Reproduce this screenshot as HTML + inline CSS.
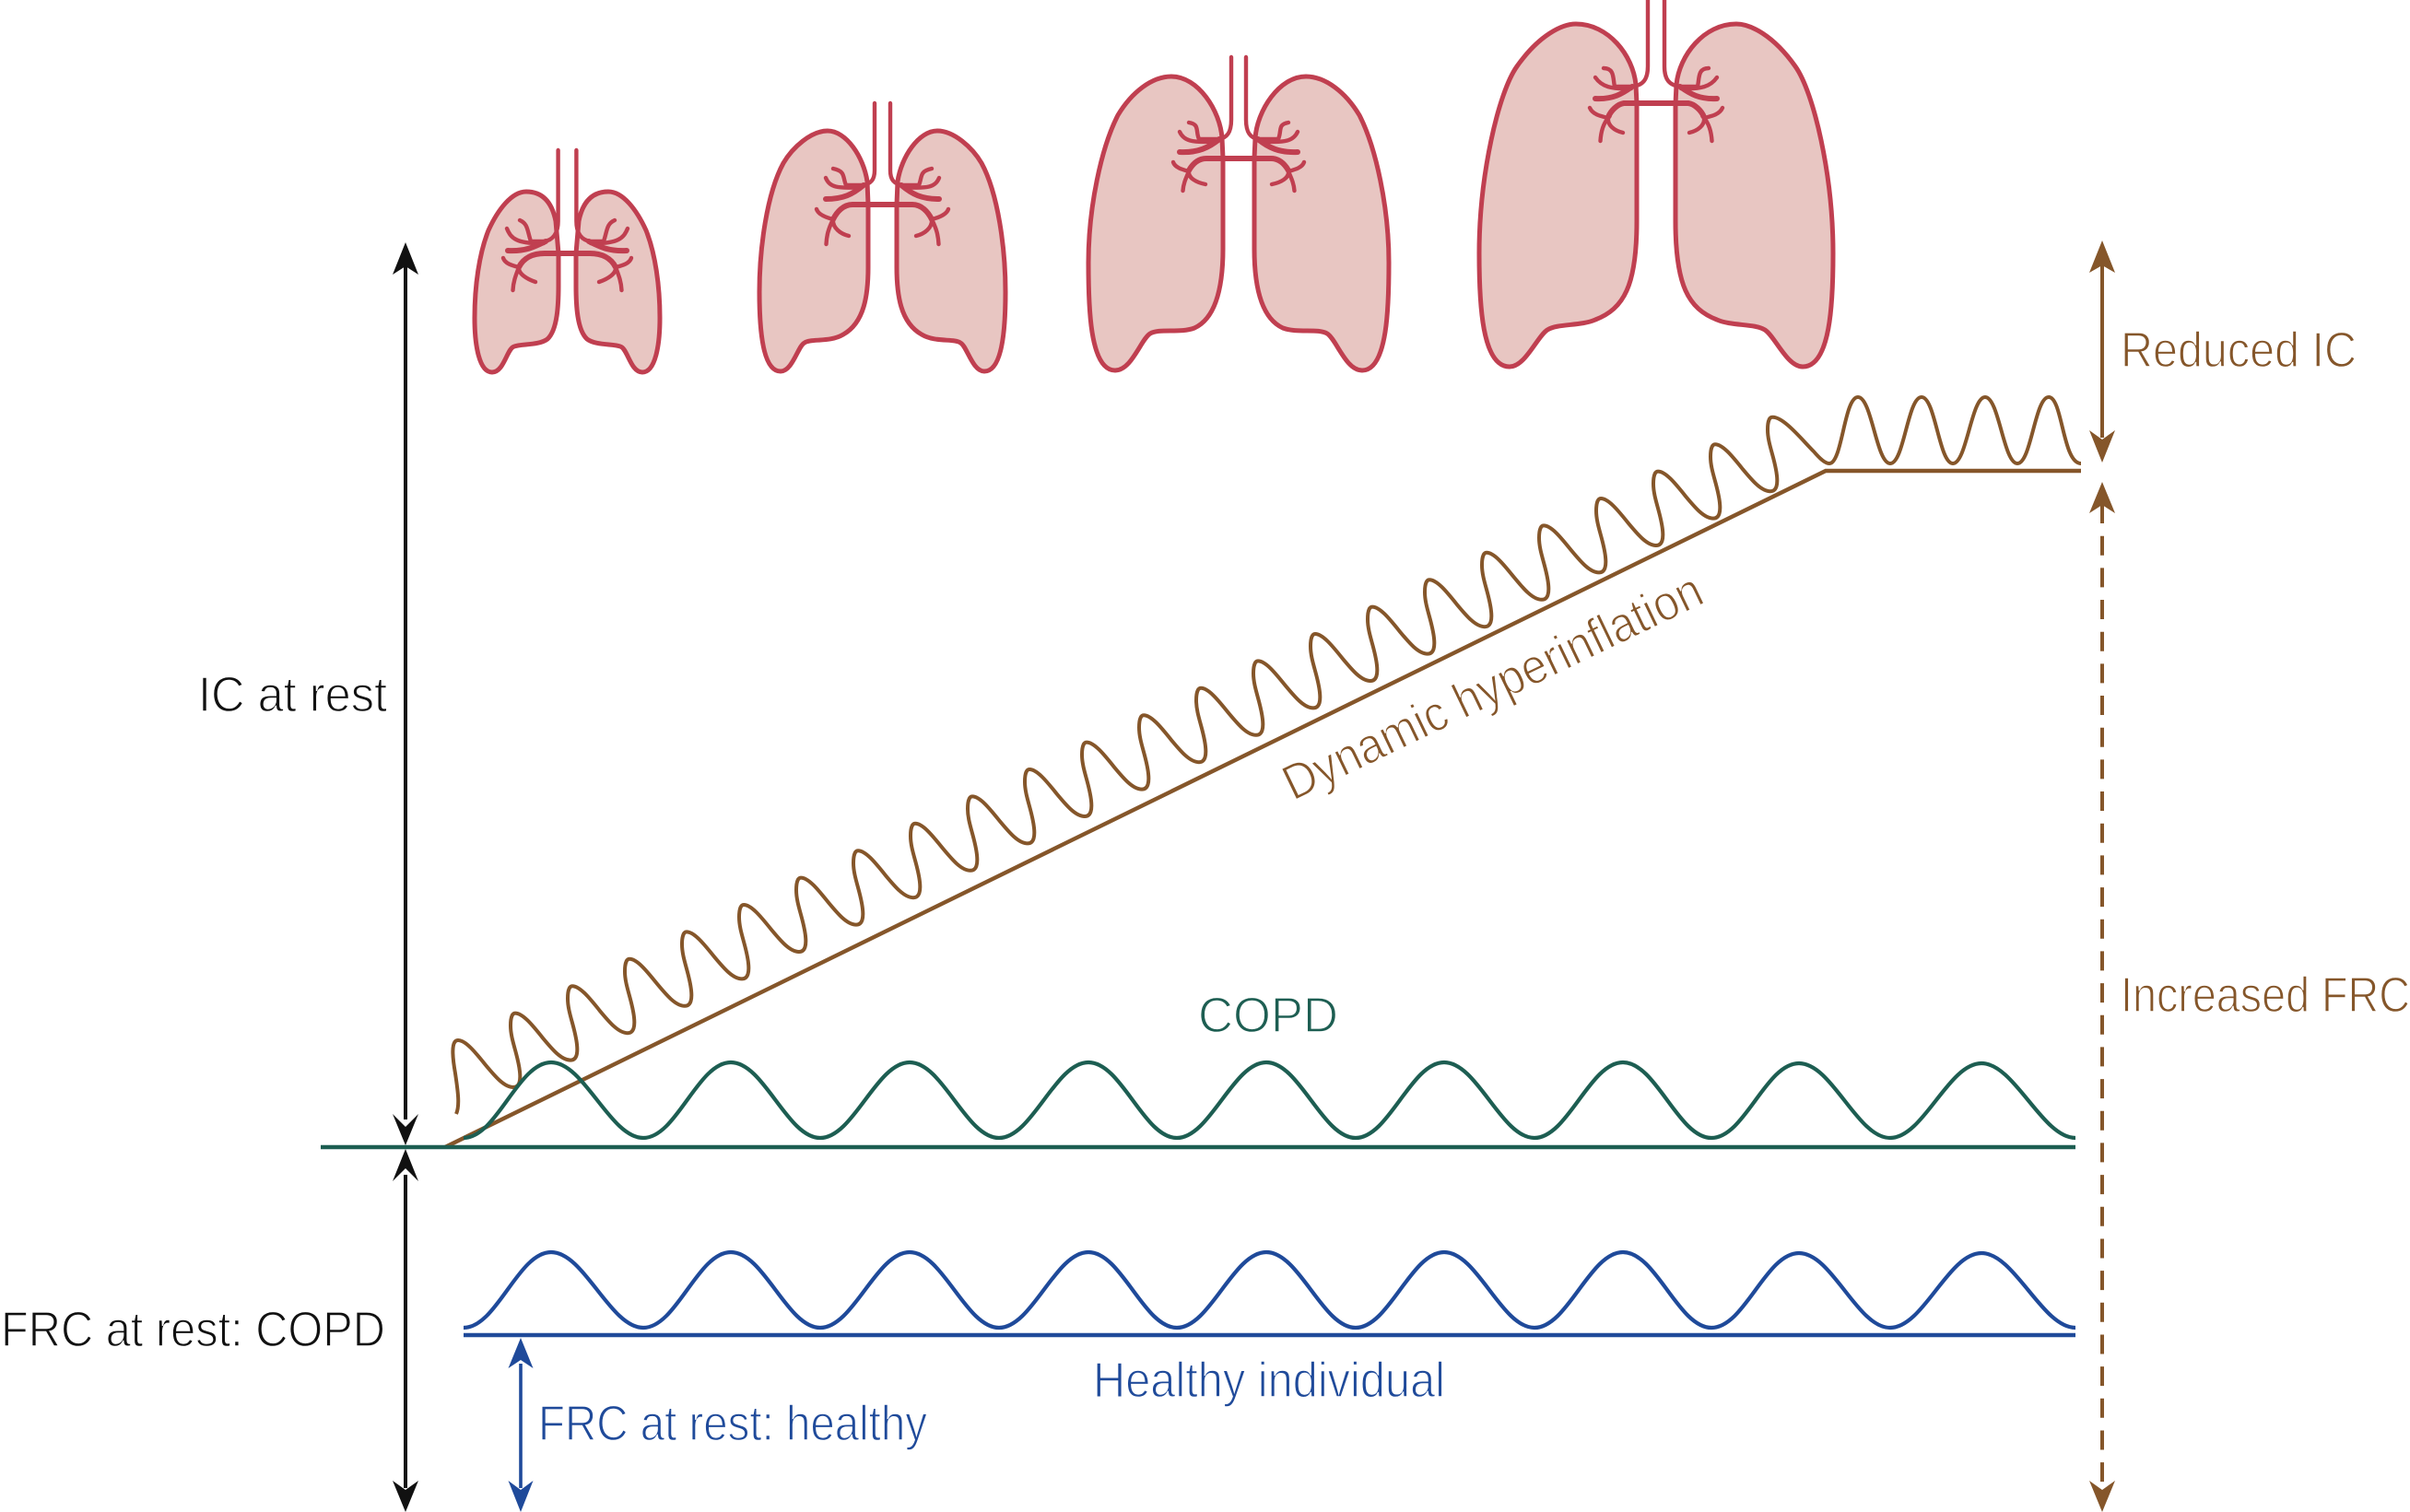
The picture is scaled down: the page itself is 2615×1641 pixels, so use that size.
<!DOCTYPE html>
<html><head><meta charset="utf-8"><title>Dynamic hyperinflation</title>
<style>html,body{margin:0;padding:0;background:#fff;width:2615px;height:1641px;overflow:hidden}svg{display:block}text{font-family:"Liberation Sans",sans-serif;font-size:54px;stroke:#fff;stroke-width:1.4px;paint-order:fill stroke}</style></head>
<body>
<svg xmlns="http://www.w3.org/2000/svg" width="2615" height="1641" viewBox="0 0 2615 1641">
<defs>
<g id="l1"><path d="M603,240 C598,215 585,208 571,208 C555,208 540,228 530,250 C520,275 515,310 515,345 C515,375 520,404 534,404 C547,404 550,378 558,376 C565,373 585,375 594,368 C605,358 606,330 606,310 L606,275 Z" fill="#e8c6c2" stroke="#c03f50" stroke-width="5" stroke-linejoin="round"/>
<g fill="none" stroke="#c03f50" stroke-width="4.4" stroke-linecap="round"><path d="M605.6,163 V240 C605.6,253 600,261 590,262 H576 C572,250 573,243 564,239"/><path d="M550,248 C554,258 560,265 590,264"/><path stroke-width="6" d="M551,272 C570,273 580,268 592,262"/><path stroke-width="6" d="M615.5,275 H591 C578,275 568,280 563,290"/><path d="M546,280 C548,286 555,288 563,290 C560,298 557,305 556.5,315"/><path d="M563,290 C562,297 572,303 581,306"/></g></g>
<g id="l2"><path d="M941,197 C937,170 918,142 898,142 C880,142 860,160 850,177 C832,210 824,270 824,317 C824,360 828,403 847,403 C860,403 866,375 873,372 C880,367 900,372 915,363 C938,350 942,320 942,290 L942,222 Z" fill="#e8c6c2" stroke="#c03f50" stroke-width="5" stroke-linejoin="round"/>
<g fill="none" stroke="#c03f50" stroke-width="4.4" stroke-linecap="round"><path d="M949,112 V185 C949,195 945,200 935,201 H918 C914,192 918,186 904,183"/><path d="M896,193 C900,203 908,205 935,203"/><path stroke-width="6" d="M896,216 C915,216 925,211 937,201"/><path stroke-width="6" d="M957.5,222 H925 C915,222 908,230 904,238"/><path d="M886,227 C888,233 896,236 904,238 C899,248 897,255 896.5,265"/><path d="M904,238 C903,247 912,254 921,256"/></g></g>
<g id="l3"><path d="M1326,150 C1324,120 1300,83 1271,83 C1250,83 1228,100 1213,125 C1195,160 1181,225 1181,285 C1181,330 1182,402 1210,402 C1228,402 1238,368 1248,362 C1258,356 1280,362 1296,356 C1320,345 1327,310 1327,270 L1327,172 Z" fill="#e8c6c2" stroke="#c03f50" stroke-width="5" stroke-linejoin="round"/>
<g fill="none" stroke="#c03f50" stroke-width="4.4" stroke-linecap="round"><path d="M1336,62 V130 C1336,143 1332,150 1322,151 H1301 C1297,142 1302,135 1290,133"/><path d="M1280,143 C1284,152 1292,156 1322,153"/><path stroke-width="6" d="M1280,165 C1300,166 1312,160 1323,151"/><path stroke-width="6" d="M1344,172 H1309 C1300,172 1294,178 1290,185"/><path d="M1273,176 C1275,182 1283,184 1290,186 C1286,195 1284,200 1283.5,207"/><path d="M1290,186 C1289,193 1298,198 1308,200"/></g></g>
<g id="l4"><path d="M1775,92 C1772,60 1745,26 1710,26 C1695,26 1670,38 1646,72 C1626,100 1605,190 1605,275 C1605,330 1608,398 1638,398 C1655,398 1668,365 1679,358 C1690,351 1715,354 1731,347 C1762,335 1776,310 1776,240 L1776,113 Z" fill="#e8c6c2" stroke="#c03f50" stroke-width="5" stroke-linejoin="round"/>
<g fill="none" stroke="#c03f50" stroke-width="4.4" stroke-linecap="round"><path d="M1788,0 V72 C1788,86 1783,93 1770,94 H1752 C1750,85 1752,74 1740,74"/><path d="M1731,84 C1738,94 1748,97 1770,96"/><path stroke-width="6" d="M1731,107 C1750,108 1760,102 1771,94"/><path stroke-width="6" d="M1797,112 H1762 C1755,113 1748,120 1745,127"/><path d="M1725,117 C1728,124 1736,126 1745,128 C1739,135 1737,145 1736.5,153"/><path d="M1745,128 C1744,136 1752,142 1761,144"/></g></g>
<path id="w" fill="none" stroke-width="4.2" d="M503,1235 C539,1235 562,1153 598,1153 C634,1153 662,1235 698,1235 C734,1235 757,1153 793,1153 C829,1153 854,1235 890,1235 C926,1235 951,1153 987,1153 C1023,1153 1048,1235 1084,1235 C1120,1235 1145,1153 1181,1153 C1217,1153 1241,1235 1277,1235 C1313,1235 1338,1153 1374,1153 C1410,1153 1435,1235 1471,1235 C1507,1235 1531,1153 1567,1153 C1603,1153 1629,1235 1665,1235 C1701,1235 1725,1153 1761,1153 C1797,1153 1821,1235 1857,1235 C1893,1235 1916,1154 1952,1154 C1988,1154 2015,1235 2051,1235 C2087,1235 2114,1154 2150,1154 C2186,1154 2216,1235 2252,1235"/>
</defs>

<use href="#l1"/><use href="#l1" transform="matrix(-1 0 0 1 1231 0)"/>
<use href="#l2"/><use href="#l2" transform="matrix(-1 0 0 1 1915 0)"/>
<use href="#l3"/><use href="#l3" transform="matrix(-1 0 0 1 2688 0)"/>
<use href="#l4"/><use href="#l4" transform="matrix(-1 0 0 1 3594 0)"/>

<!-- brown -->
<path fill="none" stroke="#85562a" stroke-width="4" d="M495,1209 C499,1200 497,1185 494,1165 C491,1148 489,1129 497,1129
c8,0 18,12 30,27 c10,12 20,24 30,24 c7,0 8,-8 7,-17 c-2,-19 -10,-34 -10,-50 c0,-9 2,-13.4 5,-13.4
c8,0 18,12 30,27 c10,12 20,24 30,24 c7,0 8,-8 7,-17 c-2,-19 -10,-34 -10,-50 c0,-9 2,-13.4 5,-13.4
c8,0 18,12 30,27 c10,12 20,24 30,24 c7,0 8,-8 7,-17 c-2,-19 -10,-34 -10,-50 c0,-9 2,-13.4 5,-13.4
c8,0 18,12 30,27 c10,12 20,24 30,24 c7,0 8,-8 7,-17 c-2,-19 -10,-34 -10,-50 c0,-9 2,-13.4 5,-13.4
c8,0 18,12 30,27 c10,12 20,24 30,24 c7,0 8,-8 7,-17 c-2,-19 -10,-34 -10,-50 c0,-9 2,-13.4 5,-13.4
c8,0 18,12 30,27 c10,12 20,24 30,24 c7,0 8,-8 7,-17 c-2,-19 -10,-34 -10,-50 c0,-9 2,-13.4 5,-13.4
c8,0 18,12 30,27 c10,12 20,24 30,24 c7,0 8,-8 7,-17 c-2,-19 -10,-34 -10,-50 c0,-9 2,-13.4 5,-13.4
c8,0 18,12 30,27 c10,12 20,24 30,24 c7,0 8,-8 7,-17 c-2,-19 -10,-34 -10,-50 c0,-9 2,-13.4 5,-13.4
c8,0 18,12 30,27 c10,12 20,24 30,24 c7,0 8,-8 7,-17 c-2,-19 -10,-34 -10,-50 c0,-9 2,-13.4 5,-13.4
c8,0 18,12 30,27 c10,12 20,24 30,24 c7,0 8,-8 7,-17 c-2,-19 -10,-34 -10,-50 c0,-9 2,-13.4 5,-13.4
c8,0 18,12 30,27 c10,12 20,24 30,24 c7,0 8,-8 7,-17 c-2,-19 -10,-34 -10,-50 c0,-9 2,-13.4 5,-13.4
c8,0 18,12 30,27 c10,12 20,24 30,24 c7,0 8,-8 7,-17 c-2,-19 -10,-34 -10,-50 c0,-9 2,-13.4 5,-13.4
c8,0 18,12 30,27 c10,12 20,24 30,24 c7,0 8,-8 7,-17 c-2,-19 -10,-34 -10,-50 c0,-9 2,-13.4 5,-13.4
c8,0 18,12 30,27 c10,12 20,24 30,24 c7,0 8,-8 7,-17 c-2,-19 -10,-34 -10,-50 c0,-9 2,-13.4 5,-13.4
c8,0 18,12 30,27 c10,12 20,24 30,24 c7,0 8,-8 7,-17 c-2,-19 -10,-34 -10,-50 c0,-9 2,-13.4 5,-13.4
c8,0 18,12 30,27 c10,12 20,24 30,24 c7,0 8,-8 7,-17 c-2,-19 -10,-34 -10,-50 c0,-9 2,-13.4 5,-13.4
c8,0 18,12 30,27 c10,12 20,24 30,24 c7,0 8,-8 7,-17 c-2,-19 -10,-34 -10,-50 c0,-9 2,-13.4 5,-13.4
c8,0 18,12 30,27 c10,12 20,24 30,24 c7,0 8,-8 7,-17 c-2,-19 -10,-34 -10,-50 c0,-9 2,-13.4 5,-13.4
c8,0 18,12 30,27 c10,12 20,24 30,24 c7,0 8,-8 7,-17 c-2,-19 -10,-34 -10,-50 c0,-9 2,-13.4 5,-13.4
c8,0 18,12 30,27 c10,12 20,24 30,24 c7,0 8,-8 7,-17 c-2,-19 -10,-34 -10,-50 c0,-9 2,-13.4 5,-13.4
c8,0 18,12 30,27 c10,12 20,24 30,24 c7,0 8,-8 7,-17 c-2,-19 -10,-34 -10,-50 c0,-9 2,-13.4 5,-13.4
c8,0 18,12 30,27 c10,12 20,24 30,24 c7,0 8,-8 7,-17 c-2,-19 -10,-34 -10,-50 c0,-9 2,-13.4 5,-13.4
c8,0 18,12 30,27 c10,12 20,24 30,24 c7,0 8,-8 7,-17 c-2,-19 -10,-34 -10,-50 c0,-9 2,-13.4 5,-13.4
C1935,452 1955,477 1968,490 C1974,497 1980,503 1985,503
C1999,503 2001,431 2016,431 C2031,431 2036,503 2051,503
C2066,503 2070,431 2085,431 C2100,431 2104,503 2119,503
C2134,503 2139,431 2154,431 C2169,431 2174,503 2189,503
C2204,503 2208,431 2223,431 C2238,431 2238,503 2258,503"/>
<path fill="none" stroke="#85562a" stroke-width="4.4" d="M483,1245 L1981,511 H2258"/>

<!-- green / blue -->
<use href="#w" stroke="#1d5e52"/>
<path d="M348,1245 H2252" stroke="#1d5e52" stroke-width="4.5"/>
<use href="#w" stroke="#1f4a9a" transform="translate(0,206)"/>
<path d="M503,1449 H2252" stroke="#1f4a9a" stroke-width="4.5"/>

<!-- black arrows -->
<g fill="#111" stroke="none">
<rect x="438" y="285" width="4" height="930"/>
<polygon points="440,263 454,298 440,289 426,298"/>
<polygon points="440,1243 426,1209 440,1223 454,1209"/>
<rect x="438" y="1275" width="4" height="340"/>
<polygon points="440,1247 454,1282 440,1268 426,1282"/>
<polygon points="440,1641 426,1607 440,1617 454,1607"/>
</g>
<!-- blue arrow -->
<g fill="#1f4a9a">
<rect x="563.2" y="1480" width="3.6" height="135"/>
<polygon points="565,1452 578.5,1485 565,1476 551.5,1485"/>
<polygon points="565,1641 551.5,1607 565,1617 578.5,1607"/>
</g>
<!-- brown arrows -->
<g fill="#85562a">
<rect x="2279" y="285" width="4" height="190"/>
<polygon points="2281,261 2295,296 2281,288 2267,296"/>
<polygon points="2281,502 2267,467 2281,477 2295,467"/>
<polygon points="2281,523 2295,557 2281,548 2267,557"/>
<rect x="2279" y="548" width="4" height="20"/>
<polygon points="2281,1641 2267,1607 2281,1617 2295,1607"/>
</g>
<path d="M2281,581.7 V1615" stroke="#85562a" stroke-width="4" stroke-dasharray="21 13.67" fill="none"/>

<!-- labels -->
<text x="215" y="772" fill="#111" textLength="205" lengthAdjust="spacingAndGlyphs">IC at rest</text>
<text x="1" y="1461" fill="#111" textLength="417" lengthAdjust="spacingAndGlyphs">FRC at rest: COPD</text>
<text x="584" y="1563" fill="#1f4a9a" textLength="422" lengthAdjust="spacingAndGlyphs">FRC at rest: healthy</text>
<text x="1186" y="1516" fill="#1f4a9a" textLength="382" lengthAdjust="spacingAndGlyphs">Healthy individual</text>
<text x="1300" y="1120" fill="#1d5e52" textLength="152" lengthAdjust="spacingAndGlyphs">COPD</text>
<text x="2301" y="398" fill="#85562a" textLength="256" lengthAdjust="spacingAndGlyphs">Reduced IC</text>
<text x="2301" y="1098" fill="#85562a" textLength="314" lengthAdjust="spacingAndGlyphs">Increased FRC</text>
<text transform="translate(1403,869.5) rotate(-25.7)" fill="#85562a" textLength="498" lengthAdjust="spacingAndGlyphs">Dynamic hyperinflation</text>
</svg>
</body></html>
